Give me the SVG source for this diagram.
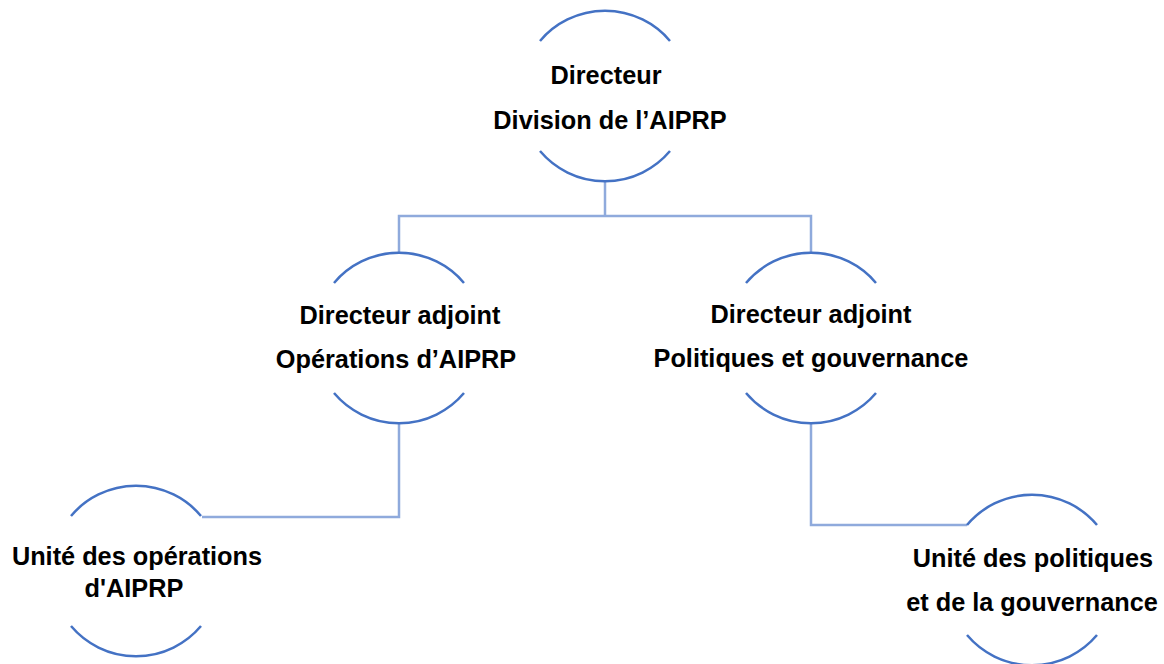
<svg xmlns="http://www.w3.org/2000/svg" width="1164" height="664" viewBox="0 0 1164 664">
<style>
.arc{fill:none;stroke:#4472C4;stroke-width:2.5}
.con{fill:none;stroke:#8FAADC;stroke-width:2.5}
text{font-family:"Liberation Sans",Arial,sans-serif;font-weight:bold;font-size:25.3px;fill:#000;text-anchor:middle}
</style>
<rect width="1164" height="664" fill="#fff"/>
<g id="connectors">
<path class="con" d="M605,181 V216 M399,253 V216 H811 V253"/>
<path class="con" d="M399,423 V517 H202"/>
<path class="con" d="M811,423 V525 H967"/>
</g>
<g id="node-directeur">
<path class="arc" d="M540,41 A85,85 0 0 1 670,41 M540,151 A85,85 0 0 0 670,151"/>
<text x="606" y="84">Directeur</text>
<text x="610" y="129">Division de l’AIPRP</text>
</g>
<g id="node-adjoint-operations">
<path class="arc" d="M334,283 A85,85 0 0 1 464,283 M334,393 A85,85 0 0 0 464,393"/>
<text x="400" y="324">Directeur adjoint</text>
<text x="396" y="368">Opérations d’AIPRP</text>
</g>
<g id="node-adjoint-politiques">
<path class="arc" d="M746,283 A85,85 0 0 1 876,283 M746,393 A85,85 0 0 0 876,393"/>
<text x="811" y="323">Directeur adjoint</text>
<text x="811" y="367">Politiques et gouvernance</text>
</g>
<g id="node-unite-operations">
<path class="arc" d="M71,516 A85,85 0 0 1 201,516 M71,626 A85,85 0 0 0 201,626"/>
<text x="137" y="565">Unité des opérations</text>
<text x="134" y="597">d'AIPRP</text>
</g>
<g id="node-unite-politiques">
<path class="arc" d="M967,525 A85,85 0 0 1 1097,525 M967,635 A85,85 0 0 0 1097,635"/>
<text x="1033" y="567">Unité des politiques</text>
<text x="1032" y="611">et de la gouvernance</text>
</g>
</svg>
